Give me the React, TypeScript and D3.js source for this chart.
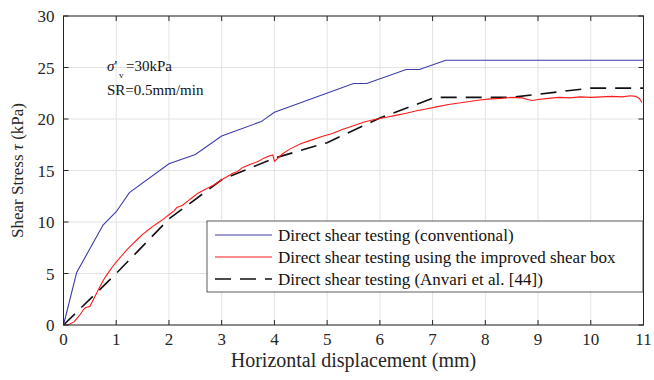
import React from "react";
import * as d3 from "d3";

const xTicks = [0, 1, 2, 3, 4, 5, 6, 7, 8, 9, 10, 11];
const yTicks = [0, 5, 10, 15, 20, 25, 30];

const convX = [0, 0.25, 0.75, 1.0, 1.25, 2.0, 2.5, 3.0, 3.75, 4.0, 5.5, 5.75, 6.5, 6.75, 7.25, 11];
const convY = [0, 5.1, 9.7, 11.0, 12.85, 15.65, 16.55, 18.35, 19.75, 20.65, 23.45, 23.45, 24.8, 24.8, 25.7, 25.7];

const impX = [0, 0.1, 0.2, 0.3, 0.38, 0.42, 0.5, 0.55, 0.62, 0.7, 0.75, 0.8, 0.88, 0.95, 1.0, 1.1, 1.2, 1.3, 1.4, 1.5, 1.6, 1.7, 1.8, 1.9, 2.0, 2.1, 2.15, 2.25, 2.35, 2.45, 2.55, 2.7, 2.85, 3.0, 3.1, 3.2, 3.3, 3.4, 3.5, 3.6, 3.7, 3.8, 3.9, 3.97, 4.0, 4.05, 4.15, 4.3, 4.5, 4.7, 4.9, 5.1, 5.3, 5.5, 5.7, 5.9, 6.1, 6.3, 6.5, 6.7, 6.9, 7.1, 7.3, 7.5, 7.7, 7.9, 8.1, 8.3, 8.5, 8.7, 8.8, 8.9, 9.0, 9.2, 9.4, 9.6, 9.8, 10.0, 10.2, 10.4, 10.6, 10.75, 10.85, 10.92, 10.97];
const impY = [0, 0.05, 0.3, 0.9, 1.5, 1.7, 1.8, 2.3, 3.0, 3.8, 4.3, 4.7, 5.3, 5.8, 6.1, 6.7, 7.3, 7.8, 8.3, 8.8, 9.2, 9.6, 9.95, 10.3, 10.7, 11.1, 11.4, 11.6, 12.0, 12.4, 12.8, 13.2, 13.6, 14.1, 14.4, 14.7, 14.9, 15.3, 15.5, 15.7, 15.9, 16.2, 16.4, 16.5, 15.9, 16.1, 16.6, 17.1, 17.6, 17.95, 18.3, 18.6, 19.0, 19.35, 19.7, 19.95, 20.15, 20.35, 20.55, 20.8, 21.0, 21.2, 21.4, 21.55, 21.7, 21.85, 21.95, 22.0, 22.1, 22.05, 21.9, 21.8, 21.9, 22.0, 22.1, 22.05, 22.15, 22.1, 22.15, 22.2, 22.15, 22.25, 22.2, 22.0, 21.6];

const anvX = [0, 1, 2, 3, 4, 5, 6, 7.05, 8.5, 10, 11];
const anvY = [0, 5.0, 10.3, 14.1, 16.2, 17.7, 20.1, 22.1, 22.1, 23.0, 23.0];

const legendLabels = [
  "Direct shear testing (conventional)",
  "Direct shear testing using the improved shear box",
  "Direct shear testing (Anvari et al. [44])",
];

const W = 654;
const H = 380;
const L = 63.5;
const R = 643.5;
const T = 16;
const B = 325;
const FONT = "'Liberation Serif', 'Times New Roman', serif";
const AX = "#262626";

export default function App() {
  const x = d3.scaleLinear().domain([0, 11]).range([L, R]);
  const y = d3.scaleLinear().domain([0, 30]).range([B, T]);
  const line = d3
    .line<[number, number]>()
    .x((d) => x(d[0]))
    .y((d) => y(d[1]));
  const conv = line(convX.map((v, i) => [v, convY[i]]) as [number, number][]) || "";
  const imp = line(impX.map((v, i) => [v, impY[i]]) as [number, number][]) || "";
  const anv = line(anvX.map((v, i) => [v, anvY[i]]) as [number, number][]) || "";

  const series = [
    { color: "#3c3ca8", width: 1.1, dash: undefined as string | undefined },
    { color: "#ff1a1a", width: 1.1, dash: undefined as string | undefined },
    { color: "#111111", width: 1.6, dash: "16,9" },
  ];
  const lx = 207, ly = 221, lw = 436, lh = 71;

  return (
    <svg width={W} height={H} style={{ position: "absolute", left: 0, top: 0, background: "#fff" }} fontFamily={FONT}>
      <rect x={0} y={0} width={W} height={H} fill="#fff" />
      {xTicks.map((t) => (
        <line key={"gx" + t} x1={x(t)} x2={x(t)} y1={T} y2={B} stroke="#e3e3e3" strokeWidth={1} />
      ))}
      {yTicks.map((t) => (
        <line key={"gy" + t} x1={L} x2={R} y1={y(t)} y2={y(t)} stroke="#e3e3e3" strokeWidth={1} />
      ))}
      <path d={anv} fill="none" stroke={series[2].color} strokeWidth={series[2].width} strokeDasharray={series[2].dash} />
      <path d={conv} fill="none" stroke={series[0].color} strokeWidth={series[0].width} />
      <path d={imp} fill="none" stroke={series[1].color} strokeWidth={series[1].width} />
      <rect x={L} y={T} width={R - L} height={B - T} fill="none" stroke={AX} strokeWidth={1} />
      {xTicks.map((t) => (
        <g key={"tx" + t}>
          <line x1={x(t)} x2={x(t)} y1={B} y2={B - 5} stroke={AX} />
          <line x1={x(t)} x2={x(t)} y1={T} y2={T + 5} stroke={AX} />
          <text x={x(t)} y={B + 20} textAnchor="middle" fontSize={17} fill={AX}>{t}</text>
        </g>
      ))}
      {yTicks.map((t) => (
        <g key={"ty" + t}>
          <line x1={L} x2={L + 5} y1={y(t)} y2={y(t)} stroke={AX} />
          <line x1={R} x2={R - 5} y1={y(t)} y2={y(t)} stroke={AX} />
          <text x={L - 9} y={y(t) + 6} textAnchor="end" fontSize={17} fill={AX}>{t}</text>
        </g>
      ))}
      <text x={(L + R) / 2} y={367} textAnchor="middle" fontSize={20} fill={AX}>Horizontal displacement (mm)</text>
      <text transform={`translate(23,${(T + B) / 2}) rotate(-90)`} textAnchor="middle" fontSize={17} fill={AX}>
        Shear Stress <tspan fontStyle="italic">τ</tspan> (kPa)
      </text>
      <text x={107} y={71} fontSize={15} fill="#111">
        <tspan fontStyle="italic">σ</tspan>
        <tspan>'</tspan>
      </text>
      <text x={119} y={78} fontSize={9} fill="#111">v</text>
      <text x={126} y={71} fontSize={15} fill="#111">=30kPa</text>
      <text x={107} y={95} fontSize={15} fill="#111">SR=0.5mm/min</text>
      <rect x={lx} y={ly} width={lw} height={lh} fill="#fff" stroke="#333" strokeWidth={0.8} />
      {legendLabels.map((lab, i) => {
        const yy = ly + 14 + i * 22;
        const s = series[i];
        return (
          <g key={lab}>
            <line x1={lx + 8} x2={lx + 65} y1={yy} y2={yy} stroke={s.color} strokeWidth={s.width} strokeDasharray={s.dash} />
            <text x={lx + 71} y={yy + 6} fontSize={17} fill="#111">{lab}</text>
          </g>
        );
      })}
    </svg>
  );
}
